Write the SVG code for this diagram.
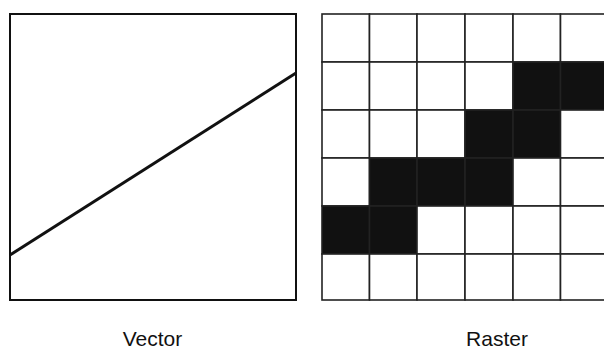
<svg xmlns="http://www.w3.org/2000/svg" width="604" height="349" viewBox="0 0 604 349">
<style>
.frame{fill:#fff;stroke:#111;stroke-width:2}
.cell{fill:#fff;stroke:#222;stroke-width:1.6}
.on{fill:#111;stroke:#222;stroke-width:1.6}
.lbl{font-family:"Liberation Sans",Arial,sans-serif;font-size:21px;fill:#111;text-anchor:middle}
</style>
<rect width="604" height="349" fill="#fff"/>
<g id="vector">
<rect class="frame" x="10" y="14" width="286" height="286"/>
<line x1="10" y1="255" x2="296" y2="73" stroke="#111" stroke-width="3"/>
</g>
<g id="raster">
<rect class="cell" x="322" y="14" width="47.5" height="48"/>
<rect class="cell" x="369.5" y="14" width="47.5" height="48"/>
<rect class="cell" x="417" y="14" width="48" height="48"/>
<rect class="cell" x="465" y="14" width="48" height="48"/>
<rect class="cell" x="513" y="14" width="47.5" height="48"/>
<rect class="cell" x="560.5" y="14" width="47.5" height="48"/>

<rect class="cell" x="322" y="62" width="47.5" height="48"/>
<rect class="cell" x="369.5" y="62" width="47.5" height="48"/>
<rect class="cell" x="417" y="62" width="48" height="48"/>
<rect class="cell" x="465" y="62" width="48" height="48"/>
<rect class="on" x="513" y="62" width="47.5" height="48"/>
<rect class="on" x="560.5" y="62" width="47.5" height="48"/>

<rect class="cell" x="322" y="110" width="47.5" height="48"/>
<rect class="cell" x="369.5" y="110" width="47.5" height="48"/>
<rect class="cell" x="417" y="110" width="48" height="48"/>
<rect class="on" x="465" y="110" width="48" height="48"/>
<rect class="on" x="513" y="110" width="47.5" height="48"/>
<rect class="cell" x="560.5" y="110" width="47.5" height="48"/>

<rect class="cell" x="322" y="158" width="47.5" height="48"/>
<rect class="on" x="369.5" y="158" width="47.5" height="48"/>
<rect class="on" x="417" y="158" width="48" height="48"/>
<rect class="on" x="465" y="158" width="48" height="48"/>
<rect class="cell" x="513" y="158" width="47.5" height="48"/>
<rect class="cell" x="560.5" y="158" width="47.5" height="48"/>

<rect class="on" x="322" y="206" width="47.5" height="48"/>
<rect class="on" x="369.5" y="206" width="47.5" height="48"/>
<rect class="cell" x="417" y="206" width="48" height="48"/>
<rect class="cell" x="465" y="206" width="48" height="48"/>
<rect class="cell" x="513" y="206" width="47.5" height="48"/>
<rect class="cell" x="560.5" y="206" width="47.5" height="48"/>

<rect class="cell" x="322" y="254" width="47.5" height="46"/>
<rect class="cell" x="369.5" y="254" width="47.5" height="46"/>
<rect class="cell" x="417" y="254" width="48" height="46"/>
<rect class="cell" x="465" y="254" width="48" height="46"/>
<rect class="cell" x="513" y="254" width="47.5" height="46"/>
<rect class="cell" x="560.5" y="254" width="47.5" height="46"/>
</g>
<g id="labels">
<text class="lbl" x="152.5" y="346">Vector</text>
<text class="lbl" x="497" y="346">Raster</text>
</g>
</svg>
